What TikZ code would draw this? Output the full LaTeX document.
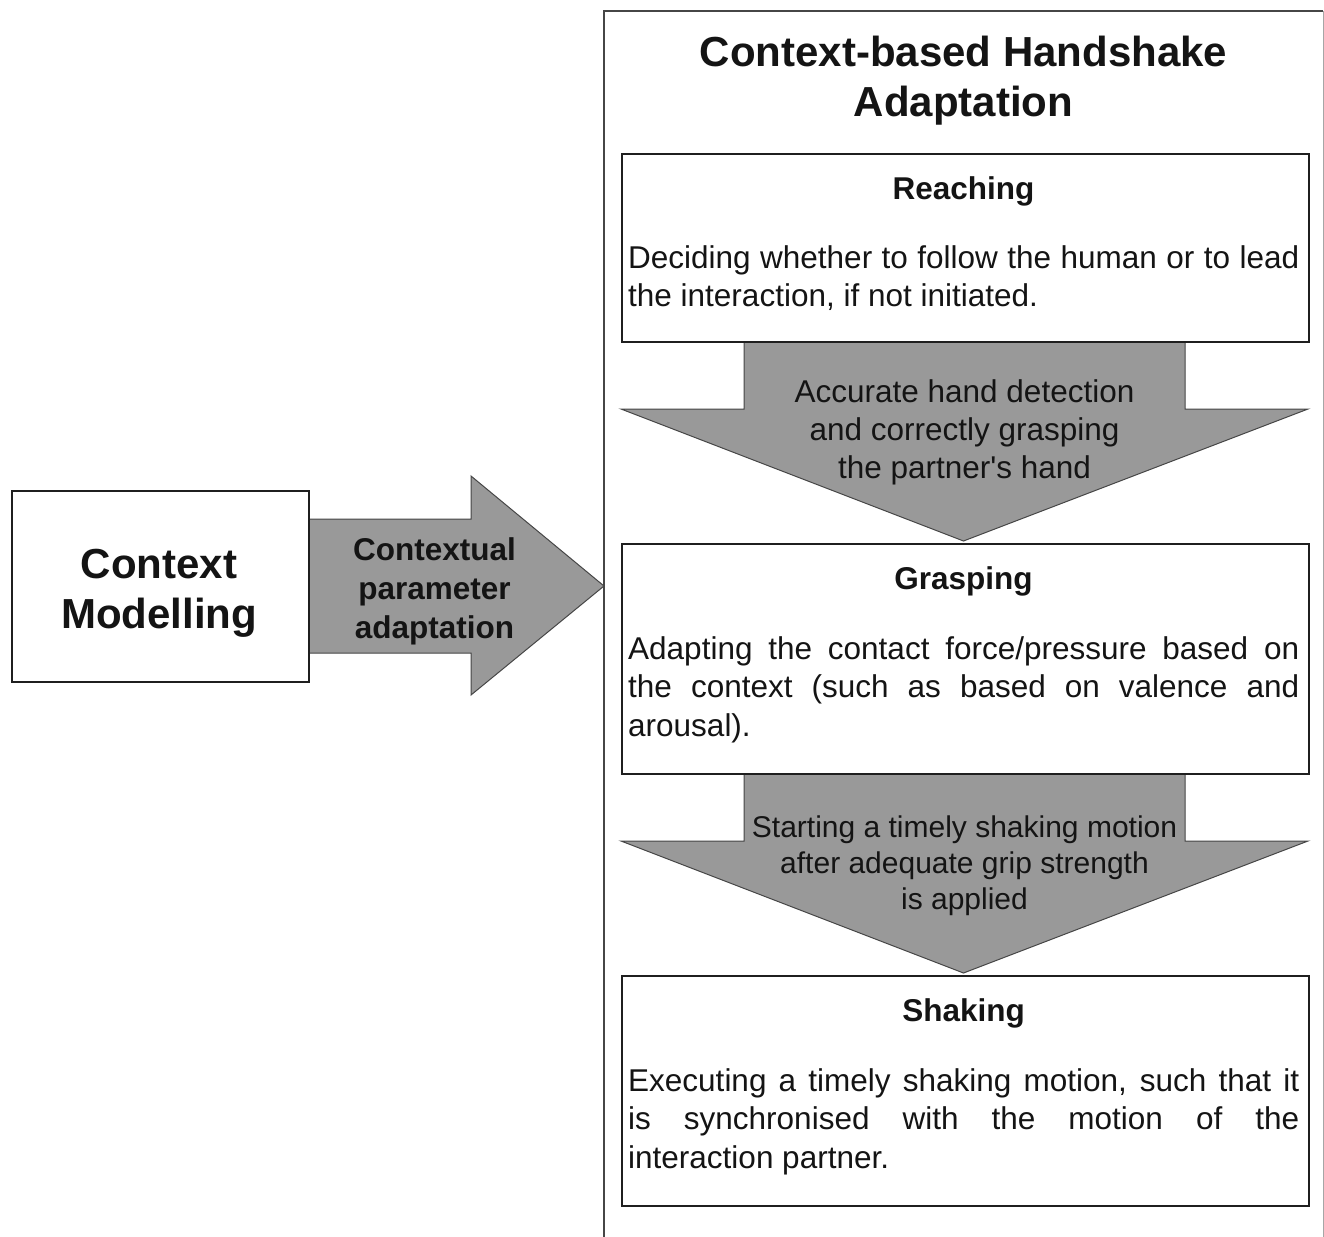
\documentclass[tikz,border=0pt]{standalone}
\usepackage{fontspec}
\setmainfont{Liberation Sans}[Ligatures=TeXOff]
\definecolor{arrowgray}{RGB}{153,153,153}
\definecolor{edgegray}{RGB}{70,70,70}
\definecolor{txt}{RGB}{20,20,20}
\begin{document}
\begin{tikzpicture}[x=1pt,y=-1pt,
  box/.style={draw=black!88, line width=2pt, fill=white, inner sep=0pt, anchor=north west},
  blockarrow/.style={draw=edgegray, line width=1pt, fill=arrowgray, line join=miter},
  bigbold/.style={font=\fontsize{42}{50}\selectfont\bfseries, text=txt, align=center, inner sep=0pt, anchor=base},
  head/.style={font=\fontsize{31.5}{38.5}\selectfont\bfseries, text=txt, inner sep=0pt, anchor=base},
  body/.style={font=\fontsize{31.5}{38.5}\selectfont, text=txt, inner sep=0pt, anchor=base west, text width=671pt, align=justify},
  arrowtext/.style={font=\fontsize{31.5}{38}\selectfont, text=txt, align=center, inner sep=0pt, anchor=base}
]
\useasboundingbox (0,0) rectangle (1324,1236);

% outer frame
\draw[edgegray, line width=1.5pt] (604,1240) -- (604,11) -- (1323,11);
\draw[black!35, line width=1pt] (1323,11) -- (1323,1240);

% title (base anchor = last line)
\node[bigbold] (title) at (963.5,117) {Context-based Handshake\\Adaptation};

% block arrows (drawn beneath the boxes)
\draw[blockarrow] (300,519) -- (471,519) -- (471,476) -- (604,586) -- (471,695) -- (471,653) -- (300,653) -- cycle;
\draw[blockarrow] (744,335) -- (1185,335) -- (1185,409) -- (1308,409) -- (963.5,541) -- (621,409) -- (744,409) -- cycle;
\draw[blockarrow] (744,767) -- (1185,767) -- (1185,841) -- (1308,841) -- (963.5,973) -- (621,841) -- (744,841) -- cycle;

% boxes
\node[box, minimum width=297pt, minimum height=191pt] (ctx) at (11,490) {};
\node[box, minimum width=687pt, minimum height=188pt] (reach) at (621,153) {};
\node[box, minimum width=687pt, minimum height=230pt] (grasp) at (621,543) {};
\node[box, minimum width=687pt, minimum height=230pt] (shake) at (621,975) {};

% left texts
\node[bigbold] (ctxt) at (159,628) {Context\\Modelling};
\node[head, align=center, font=\fontsize{31.5}{39}\selectfont\bfseries] (adapt) at (434.5,638) {Contextual\\parameter\\adaptation};

% reaching
\node[head] (reachh) at (963.5,199) {Reaching};
\node[body] (reachb) at (628,268) {\hyphenpenalty=10000\tolerance=9999 Deciding whether to follow the human or to lead\linebreak the interaction, if not initiated.};

% arrow 1 text
\node[arrowtext] (a1) at (964.5,478) {Accurate hand detection\\and correctly grasping\\the partner's hand};

% grasping
\node[head] (grasph) at (963.5,589) {Grasping};
\node[body] (graspb) at (628,659) {\hyphenpenalty=10000\tolerance=9999 Adapting the contact force/pressure based on\linebreak the context (such as based on valence and\linebreak arousal).};

% arrow 2 text
\node[arrowtext, font=\fontsize{30}{36}\selectfont] (a2) at (964.5,909) {Starting a timely shaking motion\\after adequate grip strength\\is applied};

% shaking
\node[head] (shakeh) at (963.5,1021) {Shaking};
\node[body] (shakeb) at (628,1091) {\hyphenpenalty=10000\tolerance=9999 Executing a timely shaking motion, such that it\linebreak is synchronised with the motion of the\linebreak interaction partner.};
\end{tikzpicture}
\end{document}
